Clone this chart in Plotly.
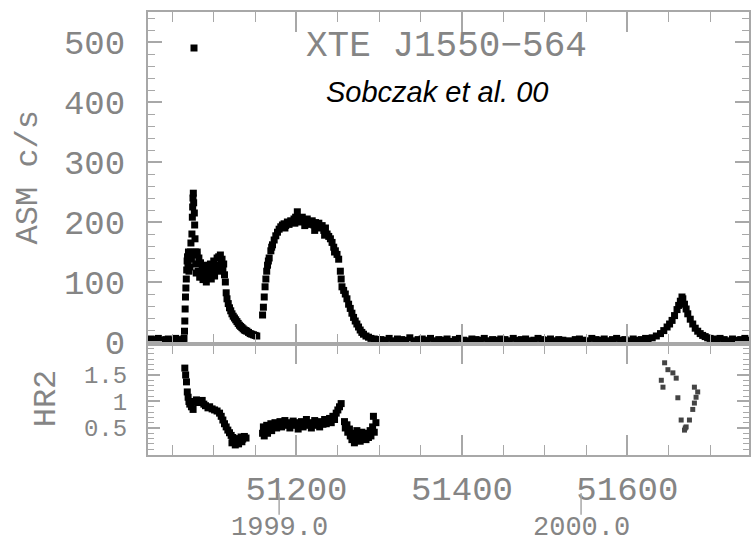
import plotly.graph_objects as go

# ---------------- ASM light curve (MJD, c/s) ----------------
mjd_quiet_1998 = [51021, 51024, 51027, 51030, 51033, 51036, 51039, 51042, 51045, 51048, 51051, 51054, 51057, 51060, 51063]
rate_quiet_1998 = [3, 5, 2, 4, 6, 3, 1, 4, 5, 2, 3, 6, 4, 2, 3]

mjd_outburst_1998 = [51064.0, 51064.6, 51065.0, 51065.4, 51065.8, 51066.3, 51066.8, 51067.3, 51067.8, 51068.3,
                     51068.8, 51069.4, 51070.0, 51070.6, 51071.2, 51071.8, 51072.4, 51073.0, 51073.6, 51074.1,
                     51074.5, 51074.9, 51075.3, 51075.7, 51076.1, 51076.5, 51076.9, 51077.3, 51077.7, 51078.2,
                     51078.8, 51079.4,
                     51080, 51081, 51082, 51083, 51084, 51085, 51086, 51087, 51088, 51089, 51090, 51091, 51092,
                     51093, 51094, 51095, 51096, 51097, 51098, 51099, 51100, 51101, 51102, 51103, 51104, 51105,
                     51106, 51107, 51108, 51109, 51110, 51111, 51112, 51113, 51114, 51115, 51116,
                     51117.5, 51119, 51120.5, 51122, 51123.5, 51125, 51126.5, 51128, 51129.5, 51131, 51132.5,
                     51134, 51135.5, 51137, 51138.5, 51140, 51142, 51144, 51146, 51148, 51150, 51152]
rate_outburst_1998 = [6, 18, 35, 55, 75, 90, 105, 120, 135, 142,
                      128, 150, 118, 138, 125, 150, 165, 140, 180, 208,
                      225, 240, 248, 232, 490, 215, 195, 172, 150, 130,
                      115, 145,
                      150, 118, 140, 108, 132, 112, 125, 104, 120, 110, 128, 100, 118,
                      108, 122, 112, 130, 105, 125, 115, 135, 110, 128, 120, 140, 118,
                      142, 125, 145, 130, 138, 120, 130, 112, 100, 82, 72,
                      64, 57, 52, 47, 43, 40, 37, 34, 31, 28, 26,
                      24, 22, 20, 19, 18, 16, 14, 13, 12, 11, 10]

mjd_outburst_1999 = [51159, 51160, 51161, 51162, 51163, 51164, 51165, 51166, 51167, 51169, 51171, 51173, 51175,
                     51177, 51179, 51181, 51183, 51185, 51187, 51189, 51191, 51193, 51195, 51197, 51199, 51201,
                     51203, 51205, 51207, 51209, 51211, 51213, 51215, 51217, 51219, 51221, 51223, 51225, 51227,
                     51229, 51231, 51233, 51235, 51237, 51239, 51241, 51243, 51245, 51247, 51249, 51251, 51253,
                     51254, 51255, 51257, 51259, 51261, 51263, 51265, 51267, 51269, 51271, 51273, 51275, 51277,
                     51279, 51281, 51284, 51287, 51290, 51294, 51298,
                     51170, 51186, 51198, 51210, 51222, 51234, 51246]
rate_outburst_1999 = [45, 58, 75, 92, 105, 118, 128, 135, 140, 152, 162, 170, 177,
                      183, 188, 192, 195, 197, 194, 200, 196, 202, 200, 205, 208, 217,
                      206, 200, 208, 203, 198, 205, 200, 196, 202, 195, 199, 193, 198,
                      190, 194, 186, 190, 180, 176, 172, 166, 158, 152, 146, 138, 118,
                      105, 92, 86, 80, 72, 63, 56, 48, 41, 35, 30, 25, 20,
                      16, 13, 10, 8, 6, 5, 4,
                      158, 190, 198, 194, 186, 178, 150]

mjd_quiet_1999 = [51302, 51307, 51312, 51317, 51322, 51327, 51332, 51337, 51342, 51347, 51352, 51357, 51362,
                  51367, 51372, 51377, 51382, 51387, 51392, 51397, 51402, 51407, 51412, 51417, 51422, 51427,
                  51432, 51437, 51442, 51447, 51452, 51457, 51462, 51467, 51472, 51477, 51482, 51487, 51492,
                  51497, 51502, 51507, 51512, 51517, 51522, 51530, 51537, 51542, 51547, 51552, 51557, 51562,
                  51567, 51572, 51577, 51582, 51587, 51592, 51597, 51602, 51607, 51612, 51617, 51622]
rate_quiet_1999 = [4, 3, 6, 2, 5, 4, 3, 7, 2, 4, 5, 3, 6,
                   2, 4, 3, 5, 1, 4, 6, 3, 2, 5, 4, 3, 6,
                   2, 4, 3, 5, 4, 2, 6, 3, 4, 5, 2, 3, 6,
                   4, 3, 5, 2, 4, 3, 2, 4, 5, 3, 2, 6, 4,
                   3, 5, 2, 4, 6, 3, 4, 2, 5, 3, 4, 6]

mjd_outburst_2000 = [51625, 51630, 51635, 51640, 51644, 51648, 51651, 51654, 51657, 51660, 51662, 51664, 51666,
                     51667, 51669, 51671, 51673, 51676, 51679, 51682, 51685, 51688, 51691, 51694, 51697, 51700]
rate_outburst_2000 = [5, 7, 10, 14, 19, 25, 30, 36, 44, 54, 61, 68, 75,
                      72, 63, 55, 47, 38, 30, 23, 18, 14, 11, 9, 7, 6]

mjd_quiet_2000 = [51704, 51708, 51712, 51717, 51722, 51727, 51732, 51737, 51742, 51746]
rate_quiet_2000 = [5, 3, 6, 4, 2, 5, 3, 4, 6, 3]

# ---------------- Hardness ratio HR2 ----------------
mjd_hr2_1998 = [51065, 51066, 51067, 51068, 51069, 51070, 51071, 51073, 51075, 51077, 51079, 51081, 51083,
                51086, 51088, 51090, 51093, 51095, 51098, 51101, 51104, 51107, 51109, 51111, 51113, 51115,
                51117, 51119, 51121, 51123, 51125, 51127, 51129, 51131, 51133, 51135, 51137, 51139,
                51122, 51126, 51130, 51134]
hr2_1998 = [1.63, 1.50, 1.37, 1.18, 1.08, 1.00, 0.95, 0.90, 0.85, 1.00, 1.03, 0.98, 1.00,
            1.02, 0.95, 0.92, 0.88, 0.90, 0.86, 0.84, 0.82, 0.78, 0.72, 0.65, 0.58, 0.52,
            0.46, 0.41, 0.36, 0.32, 0.28, 0.25, 0.30, 0.27, 0.33, 0.29, 0.34, 0.31,
            0.22, 0.18, 0.20, 0.24]

mjd_hr2_1999 = [51159, 51160, 51161, 51162, 51164, 51165, 51167, 51169, 51170, 51172, 51174, 51176, 51178,
                51180, 51182, 51184, 51186, 51188, 51190, 51192, 51194, 51196, 51198, 51200, 51202, 51204,
                51206, 51208, 51210, 51212, 51214, 51216, 51218, 51220, 51222, 51224, 51226, 51228, 51230,
                51232, 51234, 51236, 51238, 51240, 51242, 51244, 51246, 51248, 51250, 51252, 51254,
                51258, 51259, 51261, 51262, 51264, 51265, 51267, 51268, 51270, 51271, 51273, 51274, 51276,
                51277, 51279, 51280, 51282, 51284, 51286, 51287, 51289, 51290, 51292, 51293, 51294, 51296]
hr2_1999 = [0.40, 0.52, 0.35, 0.46, 0.55, 0.40, 0.50, 0.58, 0.45, 0.54, 0.60, 0.50, 0.57,
            0.62, 0.52, 0.58, 0.64, 0.55, 0.60, 0.50, 0.58, 0.63, 0.55, 0.60, 0.48, 0.57,
            0.62, 0.52, 0.60, 0.66, 0.55, 0.60, 0.50, 0.58, 0.64, 0.55, 0.60, 0.52, 0.62,
            0.57, 0.66, 0.58, 0.63, 0.68, 0.60, 0.72, 0.66, 0.78, 0.84, 0.90, 0.96,
            0.62, 0.50, 0.56, 0.42, 0.48, 0.35, 0.28, 0.40, 0.22, 0.33, 0.45, 0.30, 0.38,
            0.25, 0.42, 0.30, 0.36, 0.28, 0.40, 0.32, 0.45, 0.35, 0.52, 0.72, 0.42, 0.60]

mjd_hr2_2000 = [51641, 51643, 51645, 51649, 51655, 51659, 51661, 51665, 51669, 51671, 51675, 51679, 51681,
                51681, 51683, 51685, 51670]
hr2_2000 = [1.40, 1.27, 1.73, 1.60, 1.54, 1.44, 1.07, 0.65, 0.46, 0.52, 0.65, 0.85, 0.97,
            1.27, 1.08, 1.18, 0.50]

# ---------------- labels ----------------
source_name = "XTE J1550\u2212564"
reference_text = "Sobczak et al. 00"
year_labels = ["1999.0", "2000.0"]
year_mjd = [51179, 51544]

asm_x = mjd_quiet_1998 + mjd_outburst_1998 + mjd_outburst_1999 + mjd_quiet_1999 + mjd_outburst_2000 + mjd_quiet_2000
asm_y = rate_quiet_1998 + rate_outburst_1998 + rate_outburst_1999 + rate_quiet_1999 + rate_outburst_2000 + rate_quiet_2000

GRAY = "#a8a8a8"
TXT = "#858585"
MONO = "Liberation Mono"

fig = go.Figure()
fig.add_trace(go.Scatter(x=asm_x, y=asm_y, mode="markers", xaxis="x", yaxis="y",
                         marker=dict(symbol="square", size=7, color="black", line=dict(width=0)),
                         showlegend=False))
fig.add_trace(go.Scatter(x=mjd_hr2_1998 + mjd_hr2_1999, y=hr2_1998 + hr2_1999, mode="markers",
                         xaxis="x2", yaxis="y2",
                         marker=dict(symbol="square", size=7, color="black", line=dict(width=0)),
                         showlegend=False))
fig.add_trace(go.Scatter(x=mjd_hr2_2000, y=hr2_2000, mode="markers", xaxis="x2", yaxis="y2",
                         marker=dict(symbol="square", size=5, color="#444444", line=dict(width=0)),
                         showlegend=False))

xr = [51020.5, 51747]
common_x = dict(range=xr, showline=True, linecolor=GRAY, linewidth=2, mirror="ticks",
                ticks="inside", tickcolor=GRAY, tickwidth=2, ticklen=20, tick0=51000, dtick=200,
                minor=dict(ticks="inside", dtick=50, tick0=51000, ticklen=10, tickcolor=GRAY, tickwidth=1),
                showgrid=False, zeroline=False, tickformat="d")

fig.update_layout(
    width=753, height=542,
    margin=dict(l=148, r=2, t=12, b=87),
    paper_bgcolor="white", plot_bgcolor="white",
    xaxis=dict(common_x, anchor="y", showticklabels=False, matches="x2"),
    xaxis2=dict(common_x, anchor="y2", showticklabels=True,
                tickfont=dict(family=MONO, size=34, color=TXT), ticklabelstandoff=2),
    yaxis=dict(domain=[0.2506, 1], range=[-3.3, 550], dtick=100, tick0=0,
               showline=True, linecolor=GRAY, linewidth=2, mirror="ticks",
               ticks="inside", tickcolor=GRAY, tickwidth=2, ticklen=14,
               minor=dict(ticks="inside", dtick=20, ticklen=7, tickcolor=GRAY, tickwidth=1),
               tickfont=dict(family=MONO, size=34, color=TXT), ticklabelstandoff=14,
               showgrid=False, zeroline=False),
    yaxis2=dict(domain=[0, 0.2506], range=[-0.01, 2.085], tickvals=[0.5, 1, 1.5], ticktext=["0.5", "1", "1.5"],
                showline=True, linecolor=GRAY, linewidth=2, mirror="ticks",
                ticks="inside", tickcolor=GRAY, tickwidth=2, ticklen=12,
                minor=dict(ticks="inside", dtick=0.1, ticklen=6, tickcolor=GRAY, tickwidth=1),
                tickfont=dict(family=MONO, size=24, color=TXT), ticklabelstandoff=14,
                showgrid=False, zeroline=False),
)

annotations = [
    dict(text=source_name, xref="paper", yref="paper", x=0.4975, y=0.921, xanchor="center", yanchor="middle",
         showarrow=False, font=dict(family=MONO, size=36, color=TXT)),
    dict(text="<i>" + reference_text + "</i>", xref="paper", yref="paper", x=0.481, y=0.819,
         xanchor="center", yanchor="middle", showarrow=False,
         font=dict(family="Liberation Sans", size=29, color="black")),
    dict(text="ASM c/s", xref="paper", yref="paper", x=-0.199, y=0.6275, textangle=-90,
         xanchor="center", yanchor="middle", showarrow=False, font=dict(family=MONO, size=32, color=TXT)),
    dict(text="HR2", xref="paper", yref="paper", x=-0.1675, y=0.1287, textangle=-90,
         xanchor="center", yanchor="middle", showarrow=False, font=dict(family=MONO, size=32, color=TXT)),
]
for lab, m in zip(year_labels, year_mjd):
    annotations.append(dict(text=lab, xref="x2", yref="paper", x=m, y=-0.165, xanchor="center",
                            yanchor="middle", showarrow=False, font=dict(family=MONO, size=27, color=TXT)))
    fig.add_shape(type="line", xref="x2", yref="paper", x0=m, x1=m, y0=-0.0858, y1=-0.135,
                  line=dict(color=GRAY, width=1.5))
fig.update_layout(annotations=annotations)

fig.write_html("out.html", config={"displayModeBar": False},
               post_script="document.body.style.margin='0';document.body.style.overflow='hidden';")
